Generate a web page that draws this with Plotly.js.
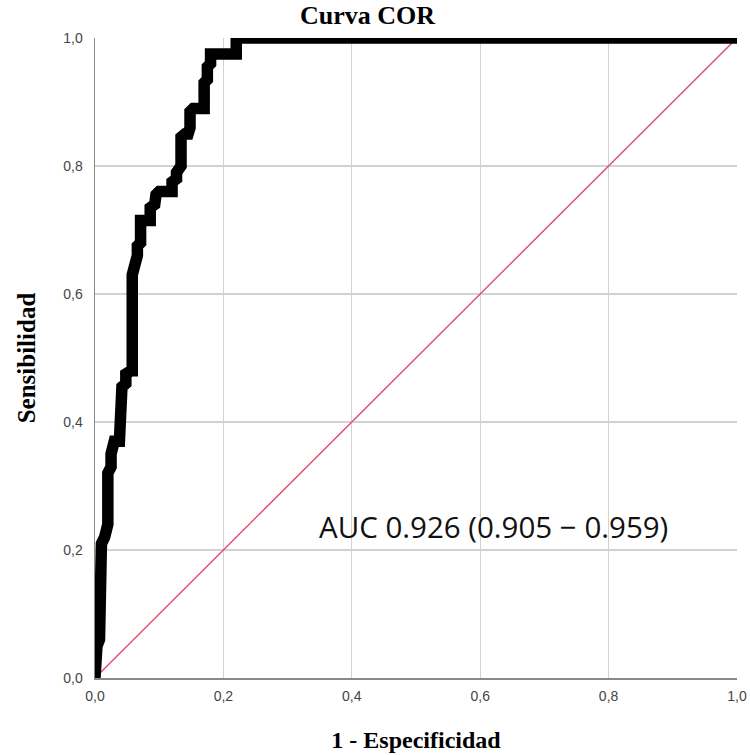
<!DOCTYPE html>
<html>
<head>
<meta charset="utf-8">
<script src="https://cdn.plot.ly/plotly-3.0.1.min.js"></script>
<style>html,body{margin:0;padding:0;background:#fff;}#chart{width:750px;height:755px;}</style>
</head>
<body>
<div id="chart"></div>
<script>
// ROC curve (1 - especificidad, sensibilidad)
var fpr = [0, 0, 0.003, 0.003, 0.007, 0.007, 0.01, 0.01, 0.015, 0.016, 0.02, 0.02, 0.025, 0.025, 0.03, 0.03, 0.038, 0.038, 0.042, 0.042, 0.048, 0.048, 0.056, 0.058, 0.058, 0.062, 0.062, 0.066, 0.066, 0.071, 0.071, 0.086, 0.086, 0.093, 0.095, 0.1, 0.12, 0.12, 0.127, 0.127, 0.134, 0.134, 0.14, 0.145, 0.148, 0.148, 0.153, 0.17, 0.17, 0.175, 0.175, 0.18, 0.18, 0.22, 0.22, 1];
var tpr = [0, 0.02, 0.03, 0.05, 0.06, 0.17, 0.18, 0.21, 0.22, 0.23, 0.24, 0.32, 0.33, 0.35, 0.36, 0.37, 0.37, 0.41, 0.42, 0.455, 0.46, 0.475, 0.48, 0.48, 0.63, 0.64, 0.65, 0.66, 0.675, 0.68, 0.715, 0.715, 0.735, 0.74, 0.755, 0.76, 0.76, 0.775, 0.78, 0.79, 0.80, 0.845, 0.85, 0.85, 0.86, 0.885, 0.89, 0.89, 0.93, 0.935, 0.955, 0.96, 0.975, 0.975, 1, 1];
var refX = [0, 1];
var refY = [0, 1];
var tickVals = [0, 0.2, 0.4, 0.6, 0.8, 1.0];
var tickText = ['0,0', '0,2', '0,4', '0,6', '0,8', '1,0'];
var aucLabel = 'AUC 0.926 (0.905 \u2212 0.959)';

var traces = [
  {x: refX, y: refY, mode: 'lines', type: 'scatter', line: {color: '#e3506f', width: 1.5}, hoverinfo: 'skip'},
  {x: fpr, y: tpr, mode: 'lines', type: 'scatter', line: {color: '#000000', width: 11.5, shape: 'linear'}}
];

var axisCommon = {
  range: [0, 1],
  tickvals: tickVals,
  ticktext: tickText,
  showgrid: true,
  gridcolor: '#d2d2d2',
  gridwidth: 1.3,
  zeroline: false,
  showline: true,
  linecolor: '#8a8a8a',
  linewidth: 1.5,
  ticks: '',
  tickfont: {family: 'Liberation Sans, Arial, sans-serif', size: 14, color: '#444'},
  fixedrange: true
};

var serif = 'Liberation Serif, Times New Roman, serif';
var layout = {
  width: 750, height: 755,
  margin: {l: 95, r: 13, t: 38, b: 77},
  paper_bgcolor: '#ffffff', plot_bgcolor: '#ffffff',
  showlegend: false,
  title: {text: '<b>Curva COR</b>', font: {family: serif, size: 26, color: '#000'}, x: 0.49, xref: 'container', xanchor: 'center', y: 0.98, yref: 'container', yanchor: 'middle'},
  xaxis: Object.assign({}, axisCommon, {
    title: {text: '<b>1 - Especificidad</b>', font: {family: serif, size: 24, color: '#000'}, standoff: 28},
    ticklabelstandoff: 5
  }),
  yaxis: Object.assign({}, axisCommon, {
    title: {text: '<b>Sensibilidad</b>', font: {family: serif, size: 25, color: '#000'}, standoff: 20},
    ticklabelstandoff: 8
  }),
  annotations: [{
    text: aucLabel, xref: 'x', yref: 'y', x: 0.621, y: 0.236, showarrow: false,
    font: {family: 'Open Sans, sans-serif', size: 29.5, color: '#111'}, xanchor: 'center', yanchor: 'middle'
  }]
};

Plotly.newPlot('chart', traces, layout, {displayModeBar: false, staticPlot: true});
</script>
</body>
</html>
